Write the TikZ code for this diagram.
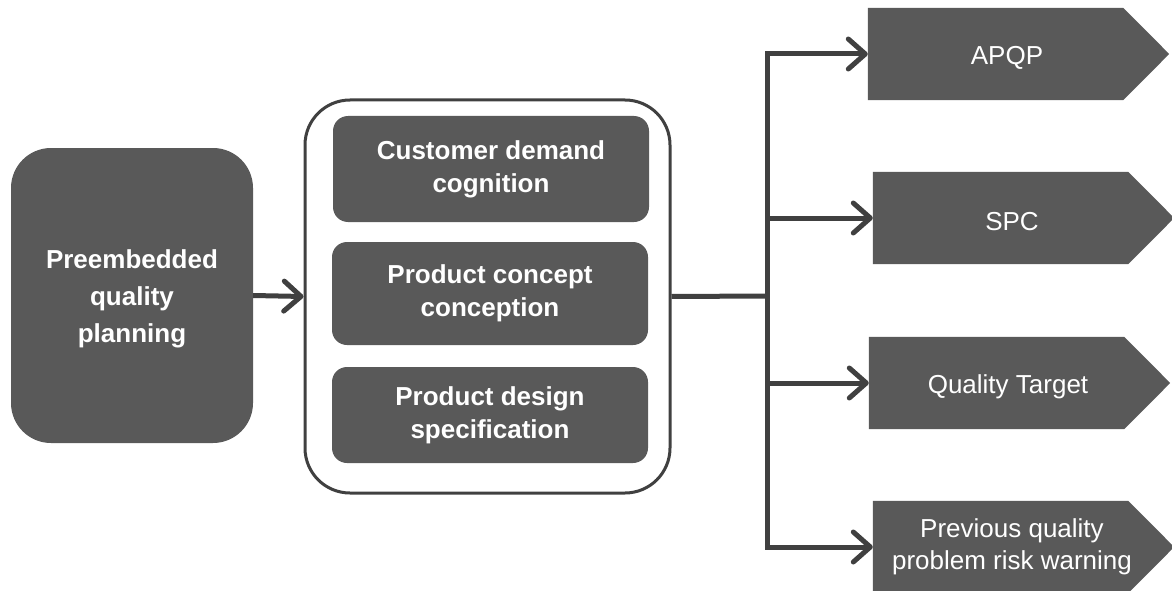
\documentclass[tikz,border=0pt]{standalone}
\usepackage{fontspec}
\setmainfont{Liberation Sans}
\usetikzlibrary{arrows.meta,calc,backgrounds}
\definecolor{boxgray}{HTML}{595959}
\definecolor{linegray}{HTML}{404040}
\begin{document}
\begin{tikzpicture}[x=1pt,y=-1pt,
  darkbox/.style={fill=boxgray,text=white,font=\fontsize{26}{37}\selectfont\bfseries,align=center,inner sep=0pt},
  innerbox/.style={fill=boxgray,text=white,font=\fontsize{26}{33}\selectfont\bfseries,align=center,inner sep=0pt,rounded corners=15pt,minimum width=316pt},
  outbox/.style={text=white,font=\fontsize{26}{32}\selectfont,align=center,inner sep=0pt,minimum width=278pt,minimum height=92pt},
  conn/.style={draw=linegray,line width=5pt},
  arr/.style={conn,-{Straight Barb[length=17pt,width=30pt,line cap=round,line join=round]}}
]
\useasboundingbox (0,0) rectangle (1172,591);

\node[darkbox,rounded corners=40pt,minimum width=242pt,minimum height=295pt] (pre) at (132,295.5) {\rule{0pt}{26pt}Preembedded\\quality\\planning};

\node[draw=linegray,line width=3pt,rounded corners=45pt,minimum width=365pt,minimum height=393pt] (cont) at (487.5,296.5) {};

\node[innerbox,minimum height=106pt] (cdc) at (491,169) {Customer demand\\cognition};
\node[innerbox,minimum height=103pt] (pcc) at (490,293.5) {Product concept\\conception};
\node[innerbox,minimum height=96pt] (pds) at (490,415) {Product design\\specification};

\node[outbox] (apqp) at (1007,54) {\rule{0pt}{26pt}APQP};
\node[outbox] (spc) at (1012,218) {\rule{0pt}{26pt}SPC};
\node[outbox] (qt) at (1008,383) {\rule{0pt}{26pt}Quality Target};
\node[outbox] (prev) at (1012,547) {Previous quality\\problem risk warning};

\begin{scope}[on background layer]
\foreach \n in {apqp,spc,qt,prev}{
  \fill[boxgray] (\n.north west) -- ([xshift=-23pt]\n.north east) -- ([xshift=23pt]\n.east) -- ([xshift=-23pt]\n.south east) -- (\n.south west) -- cycle;
}
\end{scope}

\coordinate (J) at (767,296);

\draw[arr] (pre.east) -- (cont.west);
\draw[conn] (cont.east) -- (J);
\draw[arr,line join=miter] (J) |- (apqp.west);
\draw[arr] (J) |- (spc.west);
\draw[arr] (J) |- (qt.west);
\draw[arr,line join=miter] (J) |- (prev.west);
\end{tikzpicture}
\end{document}
